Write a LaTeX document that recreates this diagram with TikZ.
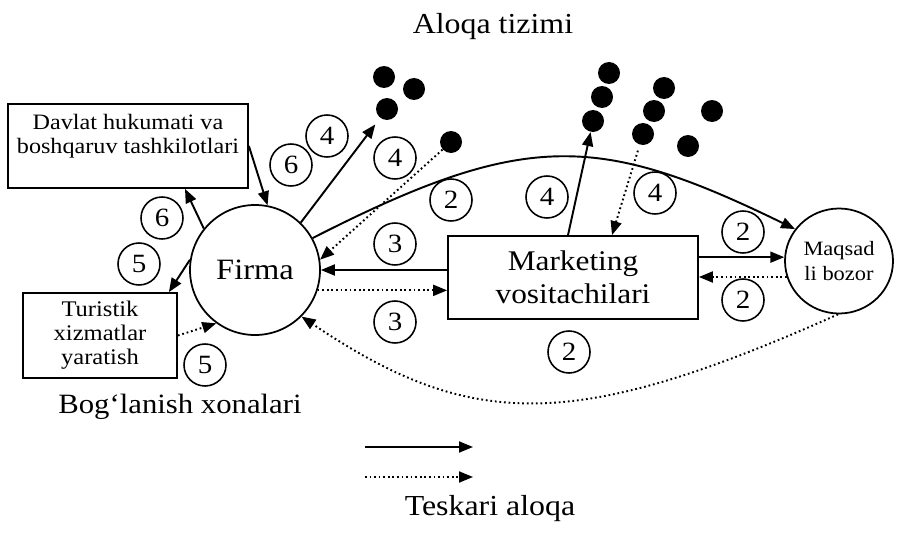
\documentclass[tikz,border=0pt]{standalone}
\usepackage{fontspec}
\setmainfont{Liberation Serif}[FakeStretch=1.1]
\usetikzlibrary{arrows.meta,shapes.geometric}

\begin{document}
\begin{tikzpicture}[x=0.2mm,y=0.2mm,
  box/.style={draw, line width=1pt, align=center, inner sep=0pt},
  num/.style={draw, circle, line width=0.9pt, minimum size=8.4mm, inner sep=0pt, font=\fontsize{15}{15}\selectfont},
  blob/.style={circle, fill, minimum size=4.4mm, inner sep=0pt},
  direct/.style={line width=1.1pt, -{Triangle[length=2.8mm,width=2.2mm]}},
  feedback/.style={line width=1.1pt, dash pattern=on 1pt off 1.6pt, -{Triangle[length=2.8mm,width=2.2mm]}},
  caption/.style={anchor=base, font=\fontsize{16.5}{16.5}\selectfont},
]
\useasboundingbox (0,0) rectangle (902,540);

\node[box, minimum width=48mm, minimum height=16.8mm, font=\fontsize{12.5}{13.7}\selectfont] (davlat) at (128,394) {Davlat hukumati va\\boshqaruv tashkilotlari\\\mbox{}};
\node[box, minimum width=30.8mm, minimum height=17mm, font=\fontsize{12.7}{13.7}\selectfont] (turistik) at (100,204.5) {Turistik\\xizmatlar\\yaratish};
\node[draw, circle, line width=1pt, minimum size=26mm, inner sep=0pt, font=\fontsize{16.8}{16.8}\selectfont] (firma) at (255,270) {Firma};
\node[box, minimum width=50mm, minimum height=16.6mm, font=\fontsize{16.2}{18.8}\selectfont] (marketing) at (573,262.5) {Marketing\\vositachilari};
\node[draw, ellipse, line width=1pt, minimum width=21.6mm, minimum height=21mm, inner sep=0pt, align=center, font=\fontsize{11.6}{14.2}\selectfont] (maqsad) at (839,279) {Maqsad\\li bozor};

\foreach \n/\x/\y/\t in {n6a/291/375/6, n4a/327/404/4, n4b/395/382/4, n2a/451/340/2, n4c/547/343/4, n4d/655/347/4,
  n3a/395/296/3, n3b/395/218/3, n2b/743/308/2, n2c/743/240/2, n2d/569/188/2, n6b/162/322/6, n5a/139/276/5, n5b/205/175/5}
  \node[num] (\n) at (\x,\y) {\t};

\foreach \n/\x/\y in {dl1/384/463, dl2/414/451, dl3/387/431, ds/451/398, dm1/609/467, dm2/602/443, dm3/593/419,
  dr1/664/452, dr2/654/429, dr3/643/406, dr4/712/429, dr5/688/394}
  \node[blob] (\n) at (\x,\y) {};

\draw[direct] (davlat.east) -- (firma.79);
\draw[direct] (firma.141) -- ([xshift=11.4mm]davlat.south);
\draw[direct] (firma.171) -- ([xshift=-1.8mm]turistik.north east);
\draw[feedback] (turistik.east) -- (firma.234);
\draw[direct, shorten >=1.6mm] (firma.46) -- (dl3);
\draw[feedback] (ds) -- (firma.9);
\draw[direct] (firma.29) .. controls +(27:238) and +(154:219) .. (maqsad.144);
\draw[direct] (firma.east -| marketing.west) -- (firma.east);
\draw[feedback] (firma.-18) -- (firma.-18 -| marketing.west);
\draw[direct] (maqsad.176 -| marketing.east) -- (maqsad.176);
\draw[feedback] (maqsad.197) -- (maqsad.197 -| marketing.east);
\draw[direct] ([xshift=-1mm]marketing.north) -- (dm3);
\draw[feedback, shorten <=1.2mm] (dr3) -- ([xshift=7.8mm]marketing.north);
\draw[feedback] (maqsad.269) .. controls +(204:290) and +(-34:204) .. (firma.-45);

\coordinate (solidA) at (365,93);
\coordinate (solidB) at (473,93);
\coordinate (dotA) at (365,63);
\coordinate (dotB) at (473,63);
\draw[direct] (solidA) -- (solidB);
\draw[feedback] (dotA) -- (dotB);

\node[caption] (aloqa) at (493,506) {Aloqa tizimi};
\node[caption, font=\fontsize{15.9}{15.9}\selectfont] (boglanish) at (180,127) {Bog‘lanish xonalari};
\node[caption] (teskari) at (490,25) {Teskari aloqa};
\end{tikzpicture}
\end{document}
